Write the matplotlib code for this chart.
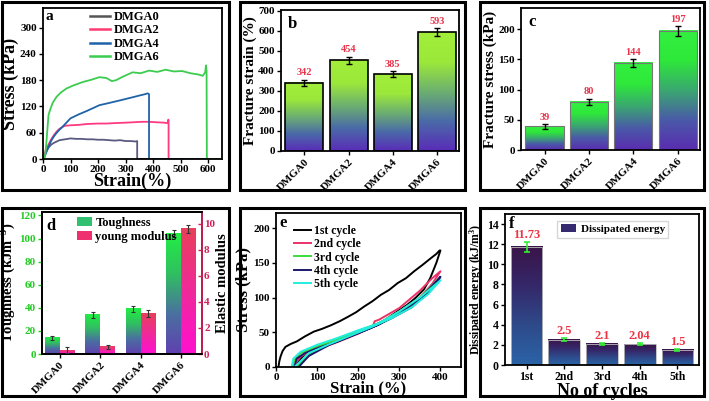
import numpy as np
import matplotlib
matplotlib.use('Agg')
import matplotlib.pyplot as plt
from matplotlib.colors import LinearSegmentedColormap
from matplotlib.patches import Rectangle, Patch
from matplotlib.lines import Line2D

plt.rcParams['font.family'] = ['Liberation Serif', 'DejaVu Serif']
plt.rcParams['font.weight'] = 'bold'
plt.rcParams['axes.labelweight'] = 'bold'
plt.rcParams['mathtext.fontset'] = 'custom'
plt.rcParams['mathtext.rm'] = 'Liberation Serif:bold'
plt.rcParams['mathtext.it'] = 'Liberation Serif:bold'
plt.rcParams['mathtext.bf'] = 'Liberation Serif:bold'
plt.rcParams['mathtext.default'] = 'rm'
plt.rcParams['axes.linewidth'] = 1.3
plt.rcParams['xtick.major.width'] = 1.0
plt.rcParams['ytick.major.width'] = 1.0
plt.rcParams['xtick.major.size'] = 3
plt.rcParams['ytick.major.size'] = 3

# ---------------- data ----------------
# (a) stress-strain curves
a_labels = ['DMGA0', 'DMGA2', 'DMGA4', 'DMGA6']
a0_strain = [0, 5, 10, 20, 30, 40, 50, 60, 70, 80, 90, 100, 120, 140, 160, 180, 200, 220, 240, 260, 280, 300, 320, 335, 342, 342, 650]
a0_stress = [0, 6, 15, 26, 33, 37, 40, 43, 44, 45, 46, 47, 46, 46, 45, 45, 44, 44, 43, 42, 43, 41, 41, 40, 41, 0, 0]
a2_strain = [0, 5, 10, 20, 30, 40, 50, 60, 70, 80, 100, 130, 160, 200, 230, 260, 300, 330, 360, 385, 410, 440, 452, 455, 456, 456, 650]
a2_stress = [0, 8, 20, 33, 45, 55, 63, 69, 73, 76, 77, 78, 80, 81, 81, 82, 83, 84, 85, 85, 84, 83, 82, 90, 88, 0, 0]
a4_strain = [0, 5, 10, 20, 30, 40, 50, 60, 70, 85, 100, 130, 160, 205, 240, 280, 325, 350, 370, 380, 385, 385, 650]
a4_stress = [0, 4, 12, 28, 42, 52, 60, 67, 73, 83, 93, 102, 110, 123, 128, 134, 141, 145, 148, 150, 148, 0, 0]
a6_strain = [0, 5, 8, 12, 15, 20, 25, 35, 49, 65, 85, 110, 145, 175, 205, 230, 250, 265, 290, 325, 355, 385, 415, 445, 475, 505, 535, 565, 580, 589, 592, 594, 595, 650]
a6_stress = [0, 3, 10, 35, 60, 100, 111, 128, 142, 152, 161, 168, 176, 181, 187, 185, 178, 180, 188, 198, 196, 202, 199, 204, 200, 201, 196, 193, 190, 198, 214, 200, 0, 0]

# (b) fracture strain
cats = ['DMGA0', 'DMGA2', 'DMGA4', 'DMGA6']
b_vals = [342, 454, 385, 593]
b_err = [15, 18, 15, 20]

# (c) fracture stress
c_vals = [39, 80, 144, 197]
c_err = [4, 5, 6, 8]

# (d) toughness / young modulus
d_tough = [14, 34, 39, 104]
d_tough_err = [2, 2.5, 3, 3]
d_young = [0.3, 0.56, 3.1, 9.6]
d_young_err = [0.2, 0.15, 0.25, 0.3]

# (e) cyclic loading (loading + unloading points)
e_labels = ['1st cycle', '2nd cycle', '3rd cycle', '4th cycle', '5th cycle']
e1_strain = [6, 8, 11, 16, 23, 35, 51, 70, 92, 112, 133, 155, 174, 195, 214, 235, 255, 275, 296, 316, 336, 356, 377, 390, 398, 400,
             390, 375, 360, 340, 320, 300, 250, 200, 150, 100, 70, 55, 45]
e1_stress = [0, 8, 15, 23, 29, 33, 37, 44, 51, 55, 60, 66, 72, 79, 87, 95, 104, 111, 121, 128, 138, 147, 157, 163, 168, 168,
             150, 128, 112, 100, 90, 82, 62, 50, 38, 28, 18, 8, 0]
e2_strain = [45, 50, 60, 80, 100, 150, 200, 235, 240, 250, 300, 350, 380, 400, 380, 350, 300, 250, 200, 150, 100, 70, 55]
e2_stress = [0, 8, 15, 22, 28, 38, 50, 58, 66, 68, 85, 110, 128, 138, 120, 100, 80, 62, 48, 36, 25, 12, 0]
e3_strain = [40, 45, 60, 100, 150, 200, 250, 300, 350, 400, 370, 330, 280, 230, 180, 130, 80, 50]
e3_stress = [0, 10, 20, 30, 40, 52, 63, 80, 100, 130, 108, 88, 72, 58, 46, 34, 20, 0]
e4_strain = [45, 50, 70, 100, 150, 200, 250, 300, 350, 400, 375, 330, 280, 230, 180, 130, 80, 55]
e4_stress = [0, 12, 20, 27, 37, 49, 61, 78, 98, 130, 110, 86, 70, 56, 44, 32, 16, 0]
e5_strain = [38, 42, 60, 100, 150, 200, 250, 300, 350, 400, 370, 330, 280, 230, 180, 130, 80, 45]
e5_stress = [0, 12, 22, 32, 42, 53, 63, 80, 100, 125, 105, 86, 70, 57, 45, 33, 20, 0]

# (f) dissipated energy
f_cats = ['1st', '2nd', '3rd', '4th', '5th']
f_vals = [11.73, 2.5, 2.1, 2.04, 1.5]
f_err = [0.5, 0.15, 0.12, 0.1, 0.08]
f_text = ['11.73', '2.5', '2.1', '2.04', '1.5']

# ---------------- figure ----------------
W, H = 709, 401
fig = plt.figure(figsize=(W / 100, H / 100), dpi=100)


def px_axes(l, t, r, b):
    return fig.add_axes([l / W, 1 - b / H, (r - l) / W, (b - t) / H])


def frame(x0, y0, x1, y1, lw=2.2):
    fig.add_artist(Rectangle((x0 / W, 1 - y1 / H), (x1 - x0) / W, (y1 - y0) / H,
                             transform=fig.transFigure, fill=False, lw=lw, ec='black'))


def gradient_bars(ax, bars, cmap, zorder=2):
    grad = np.linspace(0, 1, 256).reshape(-1, 1)
    for bar in bars:
        x, y = bar.get_x(), bar.get_y()
        w, h = bar.get_width(), bar.get_height()
        ax.imshow(grad, extent=[x, x + w, y, y + h], origin='lower', aspect='auto',
                  cmap=cmap, zorder=zorder, interpolation='bilinear')
        bar.set_facecolor('none')
        bar.set_zorder(zorder + 0.5)


def style_ticks(ax, size=8, pad=1.5, direction='out'):
    ax.tick_params(labelsize=size, pad=pad, direction=direction)
    for lab in ax.get_xticklabels() + ax.get_yticklabels():
        lab.set_fontweight('bold')


frame(2, 2, 229, 190)
frame(240, 2, 465, 190)
frame(480, 2, 704, 190)
frame(2, 208, 229, 396)
frame(240, 208, 465, 396)
frame(480, 208, 704, 396)

# ---- (a)
ax = px_axes(43, 8, 222, 159)
a_colors = ['#5a5a80', '#ff3a80', '#1f63a8', '#3ccc50']
for s, st, c, lab in zip([a0_strain, a2_strain, a4_strain, a6_strain],
                         [a0_stress, a2_stress, a4_stress, a6_stress], a_colors, a_labels):
    ax.plot(s, st, color=c, lw=1.3, label=lab)
ax.set_xlim(0, 650)
ax.set_ylim(0, 345)
ax.set_xticks(range(0, 601, 100))
ax.set_yticks(range(0, 301, 60))
style_ticks(ax, 8)
ax.set_xlabel('Strain(%)', fontsize=13, labelpad=-1)
ax.set_ylabel('Stress (kPa)', fontsize=13, labelpad=1)
leg_handles = [Line2D([0], [0], color=c, lw=1.8) for c in ['#555555', '#ff3a70', '#1f63a8', '#3ccc50']]
ax.legend(leg_handles, a_labels, loc='upper left', bbox_to_anchor=(0.22, 1.03), frameon=False,
          fontsize=9, handlelength=1.6, handletextpad=0.3, labelspacing=0.12, borderaxespad=0.2)
ax.text(0.015, 0.985, 'a', transform=ax.transAxes, va='top', ha='left', fontsize=11, fontweight='bold')

# ---- (b)
cmap_b = LinearSegmentedColormap.from_list('b', ['#5a2cb8', '#4a6aa8', '#6cb070', '#9ce83a', '#a2ee3a'])
ax = px_axes(281, 10, 459, 151)
x = np.arange(len(cats))
bars = ax.bar(x, b_vals, width=0.86, edgecolor='black', linewidth=1.2)
gradient_bars(ax, bars, cmap_b)
ax.errorbar(x, b_vals, yerr=b_err, fmt='none', ecolor='black', capsize=2, elinewidth=1, capthick=1, zorder=5)
for xi, v, e in zip(x, b_vals, b_err):
    ax.text(xi, v + e + 12, str(v), ha='center', va='bottom', color='#e8334a', fontsize=7.5, fontweight='bold')
ax.set_xlim(-0.53, 3.5)
ax.set_ylim(0, 705)
ax.set_yticks(range(0, 701, 100))
ax.set_xticks(x)
ax.set_xticklabels(cats, rotation=45, ha='right', rotation_mode='anchor')
style_ticks(ax, 8)
ax.set_ylabel('Fracture strain (%)', fontsize=11, labelpad=1)
ax.text(0.04, 0.96, 'b', transform=ax.transAxes, va='top', ha='left', fontsize=12, fontweight='bold')

# ---- (c)
cmap_c = LinearSegmentedColormap.from_list('c', ['#5a2cb0', '#4a5aa8', '#3aa870', '#2ee83a', '#33f040'])
ax = px_axes(521, 8, 700, 150)
bars = ax.bar(x, c_vals, width=0.86, edgecolor='#777777', linewidth=0.8)
gradient_bars(ax, bars, cmap_c)
ax.errorbar(x, c_vals, yerr=c_err, fmt='none', ecolor='black', capsize=2, elinewidth=1, capthick=1, zorder=5)
for xi, v, e in zip(x, c_vals, c_err):
    ax.text(xi, v + e + 4, str(v), ha='center', va='bottom', color='#e8334a', fontsize=7.5, fontweight='bold')
ax.set_xlim(-0.53, 3.5)
ax.set_ylim(0, 235)
ax.set_yticks(range(0, 201, 50))
ax.set_xticks(x)
ax.set_xticklabels(cats, rotation=45, ha='right', rotation_mode='anchor')
style_ticks(ax, 8)
ax.set_ylabel('Fracture stress (kPa)', fontsize=11, labelpad=1)
ax.text(0.04, 0.96, 'c', transform=ax.transAxes, va='top', ha='left', fontsize=12, fontweight='bold')

# ---- (d)
cmap_dg = LinearSegmentedColormap.from_list('dg', ['#6040b0', '#4a70a0', '#30c060', '#22ee44'])
cmap_dr = LinearSegmentedColormap.from_list('dr', ['#ff10d0', '#f02a9a', '#e8405a'])
ax = px_axes(42, 212, 202, 354)
ax2 = ax.twinx()
wd = 0.37
bars = ax.bar(x - wd / 2, d_tough, width=wd, linewidth=0)
gradient_bars(ax, bars, cmap_dg)
ax.errorbar(x - wd / 2, d_tough, yerr=d_tough_err, fmt='none', ecolor='#333333', capsize=1.5, elinewidth=0.8, capthick=0.8, zorder=5)
bars2 = ax2.bar(x + wd / 2, d_young, width=wd, linewidth=0)
gradient_bars(ax2, bars2, cmap_dr)
ax2.errorbar(x + wd / 2, d_young, yerr=d_young_err, fmt='none', ecolor='#333333', capsize=1.5, elinewidth=0.8, capthick=0.8, zorder=5)
ax.set_xlim(-0.44, 3.52)
ax.set_ylim(0, 123)
ax2.set_ylim(0, 10.9)
ax.set_yticks(range(0, 121, 20))
ax2.set_yticks(range(0, 11, 2))
ax.set_xticks(x)
ax.set_xticklabels(cats, rotation=45, ha='right', rotation_mode='anchor')
style_ticks(ax, 8)
style_ticks(ax2, 8, pad=1.5, direction='in')
ax.tick_params(axis='y', colors='#22cc22')
ax2.tick_params(axis='y', colors='#d0205a')
ax2.spines['right'].set_color('#d0205a')
ax.set_ylabel('Toughness (kJm$^{-3}$)', fontsize=10.5, labelpad=1)
ax2.set_ylabel('Elastic modulus', fontsize=10.5, labelpad=1)
ax.legend([Patch(facecolor='#30c070'), Patch(facecolor='#ee3070')], ['Toughness', 'young modulus'],
          loc='upper left', bbox_to_anchor=(0.17, 1.02), frameon=False, fontsize=9,
          handlelength=1.2, handleheight=0.8, handletextpad=0.3, labelspacing=0.15, borderaxespad=0.2)
ax.text(0.03, 0.96, 'd', transform=ax.transAxes, va='top', ha='left', fontsize=12, fontweight='bold')

# ---- (e)
ax = px_axes(276, 213, 461, 367)
e_colors = ['#000000', '#ec3068', '#3cdc3c', '#1a1a6a', '#22eedd']
for s, st, c, lab in zip([e1_strain, e2_strain, e3_strain, e4_strain, e5_strain],
                         [e1_stress, e2_stress, e3_stress, e4_stress, e5_stress], e_colors, e_labels):
    ax.plot(s, st, color=c, lw=1.4, label=lab)
ax.set_xlim(0, 450)
ax.set_ylim(0, 222)
ax.set_xticks(range(0, 401, 100))
ax.set_yticks(range(0, 201, 50))
style_ticks(ax, 8)
ax.set_xlabel('Strain (%)', fontsize=12, labelpad=-1)
ax.set_ylabel('Stress (kPa)', fontsize=12, labelpad=1)
ax.legend(loc='upper left', bbox_to_anchor=(0.06, 0.97), frameon=False, fontsize=8.5,
          handlelength=1.4, handletextpad=0.3, labelspacing=0.12, borderaxespad=0.2)
ax.text(0.02, 0.985, 'e', transform=ax.transAxes, va='top', ha='left', fontsize=12, fontweight='bold')

# ---- (f)
cmap_f = LinearSegmentedColormap.from_list('f', ['#2a64a8', '#2e4a8a', '#35286a', '#3a1448'])
ax = px_axes(505, 214, 699, 365)
xf = np.arange(len(f_cats))
bars = ax.bar(xf, f_vals, width=0.84, linewidth=0.6, edgecolor='#bbbbbb')
gradient_bars(ax, bars, cmap_f)
ax.errorbar(xf, f_vals, yerr=f_err, fmt='none', ecolor='#33ee33', capsize=2, elinewidth=1.2, capthick=1.2, zorder=5)
for xi, v, e, t in zip(xf, f_vals, f_err, f_text):
    ax.text(xi, v + e + 0.1, t, ha='center', va='bottom', color='#ee3344', fontsize=9, fontweight='bold')
ax.set_xlim(-0.57, 4.57)
ax.set_ylim(0, 15)
ax.set_yticks(range(0, 15, 2))
ax.set_xticks(xf)
ax.set_xticklabels(f_cats)
style_ticks(ax, 8.5)
ax.set_xlabel('No of cycles', fontsize=13, labelpad=0)
ax.set_ylabel('Dissipated energy (kJ/m$^{3}$)', fontsize=8.5, labelpad=1)
ax.legend([Patch(facecolor='#352a70')], ['Dissipated energy'], loc='upper right',
          bbox_to_anchor=(0.87, 0.99), frameon=True, fancybox=False, edgecolor='#cccccc',
          fontsize=8, handlelength=1.4, handletextpad=0.4, borderpad=0.3)
ax.text(0.02, 0.985, 'f', transform=ax.transAxes, va='top', ha='left', fontsize=12, fontweight='bold')

fig.savefig('out.png', dpi=100)
